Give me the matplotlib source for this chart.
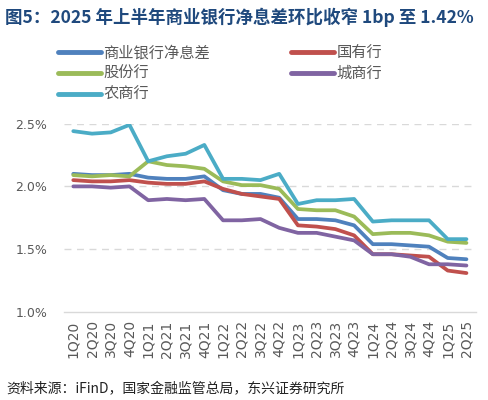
import matplotlib
matplotlib.use("Agg")
import matplotlib.pyplot as plt
from matplotlib.ticker import FuncFormatter

plt.rcParams['font.family'] = ['Noto Sans CJK SC', 'DejaVu Sans']

quarters = ["1Q20", "2Q20", "3Q20", "4Q20", "1Q21", "2Q21", "3Q21", "4Q21",
            "1Q22", "2Q22", "3Q22", "4Q22", "1Q23", "2Q23", "3Q23", "4Q23",
            "1Q24", "2Q24", "3Q24", "4Q24", "1Q25", "2Q25"]
commercial = [2.10, 2.09, 2.09, 2.10, 2.07, 2.06, 2.06, 2.08, 1.97, 1.94, 1.94, 1.91,
              1.74, 1.74, 1.73, 1.69, 1.54, 1.54, 1.53, 1.52, 1.43, 1.42]
state_owned = [2.05, 2.04, 2.04, 2.05, 2.03, 2.02, 2.02, 2.04, 1.98, 1.94, 1.92, 1.90,
               1.69, 1.68, 1.66, 1.61, 1.46, 1.46, 1.45, 1.44, 1.33, 1.31]
joint_stock = [2.09, 2.08, 2.09, 2.08, 2.20, 2.17, 2.16, 2.14, 2.04, 2.01, 2.01, 1.98,
               1.82, 1.81, 1.81, 1.76, 1.62, 1.63, 1.63, 1.61, 1.56, 1.55]
city = [2.00, 2.00, 1.99, 2.00, 1.89, 1.90, 1.89, 1.90, 1.73, 1.73, 1.74, 1.67,
        1.63, 1.63, 1.60, 1.57, 1.46, 1.46, 1.44, 1.38, 1.38, 1.37]
rural = [2.44, 2.42, 2.43, 2.49, 2.20, 2.24, 2.26, 2.33, 2.06, 2.06, 2.05, 2.10,
         1.86, 1.89, 1.89, 1.90, 1.72, 1.73, 1.73, 1.73, 1.58, 1.58]

series = [
    ("商业银行净息差", commercial, "#4F81BD"),
    ("国有行", state_owned, "#C0504D"),
    ("股份行", joint_stock, "#9BBB59"),
    ("城商行", city, "#8064A2"),
    ("农商行", rural, "#4BACC6"),
]

fig = plt.figure(figsize=(4.88, 4.0), dpi=100)
ax = fig.add_axes([0.131, 0.22, 0.844, 0.471])

x = list(range(len(quarters)))
handles = []
for name, vals, color in series:
    h, = ax.plot(x, vals, color=color, lw=2.7, label=name,
                 solid_capstyle='round', solid_joinstyle='round')
    handles.append(h)

ax.set_xlim(-0.5, len(quarters) - 0.5)
ax.set_ylim(1.0, 2.5)
ax.set_yticks([1.0, 1.5, 2.0, 2.5])
ax.yaxis.set_major_formatter(FuncFormatter(lambda v, p: f"{v:.1f}%"))
ax.set_xticks(x)
ax.set_xticklabels(quarters, rotation=90)
ax.tick_params(axis='both', length=0, colors='#595959')
ax.tick_params(axis='y', pad=12, labelsize=9)
ax.tick_params(axis='x', pad=6, labelsize=10)
for t in ax.get_xticklabels() + ax.get_yticklabels():
    t.set_family(['DejaVu Sans'])
    t.set_color('#595959')

for v in [1.5, 2.0, 2.5]:
    ax.axhline(v, color='#D9D9D9', lw=1.0, ls=(0, (5, 4)), zorder=0)
for s in ['top', 'right', 'left']:
    ax.spines[s].set_visible(False)
ax.spines['bottom'].set_color('#D9D9D9')
ax.spines['bottom'].set_linewidth(1.0)

order = [0, 2, 4, 1, 3]
leg = fig.legend(handles=[handles[i] for i in order],
                 labels=[series[i][0] for i in order], ncol=2,
                 loc='upper left', bbox_to_anchor=(0.107, 0.905), frameon=False,
                 fontsize=11, handlelength=2.8, columnspacing=5.3,
                 labelspacing=0.26, handletextpad=0.15, labelcolor='#595959',
                 borderaxespad=0.0)
for lh in leg.get_lines():
    lh.set_linewidth(3.5)
    lh.set_solid_capstyle('round')

fig.text(0.01, 0.957, "图5：2025 年上半年商业银行净息差环比收窄 1bp 至 1.42%",
         fontsize=12.6, fontweight='bold', color='#1F497D', ha='left', va='center',
         family=['Noto Sans CJK SC', 'DejaVu Sans'])
fig.text(0.012, 0.028, "资料来源：iFinD，国家金融监管总局，东兴证券研究所",
         fontsize=10, style='italic', color='#222222', ha='left', va='center',
         family=['Noto Sans CJK SC', 'DejaVu Sans'])

fig.savefig("out.png", dpi=100, facecolor='white')
